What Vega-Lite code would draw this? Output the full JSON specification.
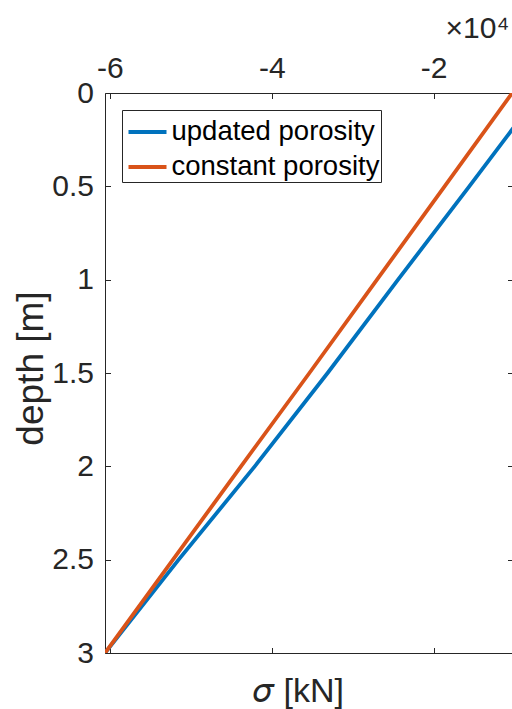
{
  "$schema": "https://vega.github.io/schema/vega-lite/v6.json",
  "autosize": {"type": "none"},
  "padding": {"left": 105, "top": 93, "right": 0, "bottom": 56},
  "width": 408,
  "height": 560,
  "config": {
    "font": "Liberation Sans",
    "view": {"stroke": null},
    "axis": {
      "domainColor": "#262626",
      "tickColor": "#262626",
      "labelColor": "#262626",
      "titleColor": "#262626",
      "labelFont": "Liberation Sans",
      "titleFont": "Liberation Sans",
      "titleFontWeight": "normal",
      "grid": false,
      "domainWidth": 1,
      "tickWidth": 1
    }
  },
  "data": {
    "values": [
      {"series": "updated porosity", "depth": 0.0, "sigma": -6900},
      {"series": "updated porosity", "depth": 0.5, "sigma": -15600},
      {"series": "updated porosity", "depth": 1.0, "sigma": -24400},
      {"series": "updated porosity", "depth": 1.5, "sigma": -33100},
      {"series": "updated porosity", "depth": 2.0, "sigma": -42100},
      {"series": "updated porosity", "depth": 2.5, "sigma": -51500},
      {"series": "updated porosity", "depth": 3.0, "sigma": -60600},
      {"series": "constant porosity", "depth": 0.0, "sigma": -10300},
      {"series": "constant porosity", "depth": 0.5, "sigma": -18650},
      {"series": "constant porosity", "depth": 1.0, "sigma": -27000},
      {"series": "constant porosity", "depth": 1.5, "sigma": -35350},
      {"series": "constant porosity", "depth": 2.0, "sigma": -43800},
      {"series": "constant porosity", "depth": 2.5, "sigma": -52200},
      {"series": "constant porosity", "depth": 3.0, "sigma": -60600}
    ]
  },
  "layer": [
    {
      "mark": {"type": "line", "strokeWidth": 3.8, "clip": true},
      "encoding": {
        "x": {
          "field": "sigma",
          "type": "quantitative",
          "scale": {"domain": [-60600, -10200], "nice": false, "zero": false},
          "axis": {
            "orient": "top",
            "values": [-60000, -40000, -20000],
            "labelExpr": "'-' + abs(datum.value)/10000",
            "labelFontSize": 30,
            "tickSize": -5.5,
            "labelPadding": 15,
            "title": "×10⁴",
            "titleFontSize": 30,
            "titleAlign": "left",
            "titleX": 340,
            "titleY": -56,
            "titleBaseline": "alphabetic"
          }
        },
        "y": {
          "field": "depth",
          "type": "quantitative",
          "scale": {"domain": [0, 3], "reverse": true, "nice": false, "zero": false},
          "axis": {
            "orient": "left",
            "values": [0, 0.5, 1, 1.5, 2, 2.5, 3],
            "labelExpr": "'' + datum.value",
            "labelFontSize": 30,
            "tickSize": -5.5,
            "labelPadding": 17,
            "title": "depth [m]",
            "titleFontSize": 37,
            "titleX": -63,
            "titleY": 275,
            "titleBaseline": "alphabetic"
          }
        },
        "color": {
          "field": "series",
          "type": "nominal",
          "sort": ["updated porosity", "constant porosity"],
          "scale": {"domain": ["updated porosity", "constant porosity"], "range": ["#0072BD", "#D95319"]},
          "legend": {
            "title": null,
            "orient": "top-left",
            "offset": 17,
            "strokeColor": "#262626",
            "fillColor": "white",
            "padding": 1,
            "symbolOffset": 3.5,
            "symbolType": "stroke",
            "symbolSize": 1444,
            "symbolStrokeWidth": 4,
            "labelFontSize": 27.5,
            "labelColor": "black",
            "labelOffset": 3,
            "labelLimit": 0,
            "rowPadding": -4.5,
            "cornerRadius": 0
          }
        }
      }
    },
    {
      "mark": {"type": "line", "opacity": 0},
      "encoding": {
        "x": {
          "field": "sigma",
          "type": "quantitative",
          "axis": {
            "orient": "bottom",
            "values": [-60000, -40000, -20000],
            "labels": false,
            "tickSize": -5.5,
            "title": "𝜎 [kN]",
            "titleFontSize": 34,
            "titleX": 193,
            "titleY": 48.5,
            "titleBaseline": "alphabetic"
          }
        },
        "y": {
          "field": "depth",
          "type": "quantitative",
          "axis": {
            "orient": "right",
            "values": [0, 0.5, 1, 1.5, 2, 2.5, 3],
            "labels": false,
            "tickSize": -5.5,
            "title": null
          }
        },
        "detail": {"field": "series"}
      }
    }
  ],
  "resolve": {"axis": {"x": "independent", "y": "independent"}}
}
